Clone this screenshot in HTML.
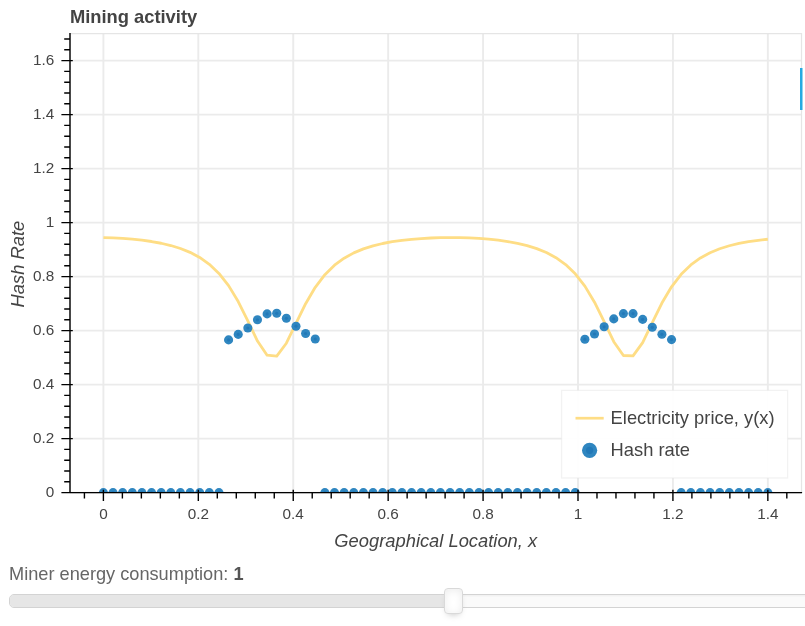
<!DOCTYPE html>
<html><head><meta charset="utf-8"><title>Mining activity</title>
<style>
html,body{margin:0;padding:0;background:#fff;}
body{width:805px;height:626px;overflow:hidden;font-family:"Liberation Sans",Helvetica,Arial,sans-serif;}
svg{display:block;position:absolute;left:0;top:0;}
text{font-family:"Liberation Sans",Helvetica,Arial,sans-serif;fill:#444444;}
.tick{font-size:15.3px;}
.lab{font-size:18.33px;font-style:italic;}
.leg{font-size:18.33px;}
.trk{position:absolute;left:9px;top:594px;width:830px;height:14px;box-sizing:border-box;border:1.25px solid #d3d3d3;border-radius:5px;background:#fafafa;overflow:hidden;box-shadow:inset 0 1.25px 1.25px #f0f0f0;}
.con{position:absolute;left:0;top:0;width:444px;height:100%;background:#e6e6e6;}
.hnd{position:absolute;left:444.2px;top:587.8px;width:18.6px;height:25.8px;box-sizing:border-box;border:1.25px solid #d9d9d9;border-radius:4px;background:#fff;box-shadow:inset 0 0 1.25px #fff, inset 0 1.25px 8.75px #ebebeb, 0 3.75px 7.5px -3.75px #bbb;}
</style></head><body>
<svg width="805" height="626" viewBox="0 0 805 626">
<defs><clipPath id="fr"><rect x="70.0" y="33.6" width="731.5" height="459.0"/></clipPath></defs>
<rect x="0" y="0" width="805" height="626" fill="#ffffff"/>

<text x="69.9" y="23.3" style="font-size:18.33px;font-weight:bold;">Mining activity</text>
<path d="M103.40 33.6V492.6M198.32 33.6V492.6M293.24 33.6V492.6M388.16 33.6V492.6M483.08 33.6V492.6M578.00 33.6V492.6M672.92 33.6V492.6M767.84 33.6V492.6M70.0 492.60H801.5M70.0 438.60H801.5M70.0 384.60H801.5M70.0 330.60H801.5M70.0 276.60H801.5M70.0 222.60H801.5M70.0 168.60H801.5M70.0 114.60H801.5M70.0 60.60H801.5" stroke="#ebebeb" stroke-width="1.9" fill="none"/>
<rect x="70.0" y="33.6" width="731.5" height="459.0" fill="none" stroke="#e5e5e5" stroke-width="1.25"/>
<g clip-path="url(#fr)">
<polyline points="103.40,237.68 113.03,237.96 122.66,238.45 132.29,239.18 141.92,240.18 151.55,241.51 161.18,243.25 170.81,245.52 180.44,248.48 190.07,252.35 199.70,257.46 209.33,264.27 218.95,273.40 228.58,285.60 238.21,301.53 247.84,320.93 257.47,341.03 267.10,355.19 276.73,356.11 286.36,343.23 295.99,323.42 305.62,303.71 315.25,287.32 324.88,274.70 334.51,265.24 344.14,258.18 353.77,252.89 363.40,248.89 373.03,245.84 382.66,243.50 392.29,241.70 401.92,240.32 411.55,239.28 421.18,238.53 430.81,238.01 440.43,237.71 450.06,237.60 459.69,237.69 469.32,237.97 478.95,238.47 488.58,239.21 498.21,240.22 507.84,241.56 517.47,243.32 527.10,245.61 536.73,248.60 546.36,252.51 555.99,257.67 565.62,264.55 575.25,273.78 584.88,286.10 594.51,302.17 604.14,321.66 613.77,341.69 623.40,355.49 633.03,355.86 642.66,342.59 652.29,322.69 661.91,303.06 671.54,286.81 681.17,274.31 690.80,264.95 700.43,257.97 710.06,252.73 719.69,248.77 729.32,245.74 738.95,243.42 748.58,241.64 758.21,240.28 767.84,239.25" fill="none" stroke="#fedd85" stroke-width="2.8" stroke-linejoin="round" stroke-linecap="butt"/>
<circle cx="103.40" cy="492.60" r="4.55" fill="#2f86c0"/><circle cx="103.40" cy="492.60" r="1.6" fill="#2279b8"/>
<circle cx="113.03" cy="492.60" r="4.55" fill="#2f86c0"/><circle cx="113.03" cy="492.60" r="1.6" fill="#2279b8"/>
<circle cx="122.66" cy="492.60" r="4.55" fill="#2f86c0"/><circle cx="122.66" cy="492.60" r="1.6" fill="#2279b8"/>
<circle cx="132.29" cy="492.60" r="4.55" fill="#2f86c0"/><circle cx="132.29" cy="492.60" r="1.6" fill="#2279b8"/>
<circle cx="141.92" cy="492.60" r="4.55" fill="#2f86c0"/><circle cx="141.92" cy="492.60" r="1.6" fill="#2279b8"/>
<circle cx="151.55" cy="492.60" r="4.55" fill="#2f86c0"/><circle cx="151.55" cy="492.60" r="1.6" fill="#2279b8"/>
<circle cx="161.18" cy="492.60" r="4.55" fill="#2f86c0"/><circle cx="161.18" cy="492.60" r="1.6" fill="#2279b8"/>
<circle cx="170.81" cy="492.60" r="4.55" fill="#2f86c0"/><circle cx="170.81" cy="492.60" r="1.6" fill="#2279b8"/>
<circle cx="180.44" cy="492.60" r="4.55" fill="#2f86c0"/><circle cx="180.44" cy="492.60" r="1.6" fill="#2279b8"/>
<circle cx="190.07" cy="492.60" r="4.55" fill="#2f86c0"/><circle cx="190.07" cy="492.60" r="1.6" fill="#2279b8"/>
<circle cx="199.70" cy="492.60" r="4.55" fill="#2f86c0"/><circle cx="199.70" cy="492.60" r="1.6" fill="#2279b8"/>
<circle cx="209.33" cy="492.60" r="4.55" fill="#2f86c0"/><circle cx="209.33" cy="492.60" r="1.6" fill="#2279b8"/>
<circle cx="218.95" cy="492.60" r="4.55" fill="#2f86c0"/><circle cx="218.95" cy="492.60" r="1.6" fill="#2279b8"/>
<circle cx="228.58" cy="339.90" r="4.55" fill="#2f86c0"/><circle cx="228.58" cy="339.90" r="1.6" fill="#2279b8"/>
<circle cx="238.21" cy="334.40" r="4.55" fill="#2f86c0"/><circle cx="238.21" cy="334.40" r="1.6" fill="#2279b8"/>
<circle cx="247.84" cy="328.00" r="4.55" fill="#2f86c0"/><circle cx="247.84" cy="328.00" r="1.6" fill="#2279b8"/>
<circle cx="257.47" cy="319.80" r="4.55" fill="#2f86c0"/><circle cx="257.47" cy="319.80" r="1.6" fill="#2279b8"/>
<circle cx="267.10" cy="313.90" r="4.55" fill="#2f86c0"/><circle cx="267.10" cy="313.90" r="1.6" fill="#2279b8"/>
<circle cx="276.73" cy="313.30" r="4.55" fill="#2f86c0"/><circle cx="276.73" cy="313.30" r="1.6" fill="#2279b8"/>
<circle cx="286.36" cy="318.30" r="4.55" fill="#2f86c0"/><circle cx="286.36" cy="318.30" r="1.6" fill="#2279b8"/>
<circle cx="295.99" cy="326.20" r="4.55" fill="#2f86c0"/><circle cx="295.99" cy="326.20" r="1.6" fill="#2279b8"/>
<circle cx="305.62" cy="333.50" r="4.55" fill="#2f86c0"/><circle cx="305.62" cy="333.50" r="1.6" fill="#2279b8"/>
<circle cx="315.25" cy="339.00" r="4.55" fill="#2f86c0"/><circle cx="315.25" cy="339.00" r="1.6" fill="#2279b8"/>
<circle cx="324.88" cy="492.60" r="4.55" fill="#2f86c0"/><circle cx="324.88" cy="492.60" r="1.6" fill="#2279b8"/>
<circle cx="334.51" cy="492.60" r="4.55" fill="#2f86c0"/><circle cx="334.51" cy="492.60" r="1.6" fill="#2279b8"/>
<circle cx="344.14" cy="492.60" r="4.55" fill="#2f86c0"/><circle cx="344.14" cy="492.60" r="1.6" fill="#2279b8"/>
<circle cx="353.77" cy="492.60" r="4.55" fill="#2f86c0"/><circle cx="353.77" cy="492.60" r="1.6" fill="#2279b8"/>
<circle cx="363.40" cy="492.60" r="4.55" fill="#2f86c0"/><circle cx="363.40" cy="492.60" r="1.6" fill="#2279b8"/>
<circle cx="373.03" cy="492.60" r="4.55" fill="#2f86c0"/><circle cx="373.03" cy="492.60" r="1.6" fill="#2279b8"/>
<circle cx="382.66" cy="492.60" r="4.55" fill="#2f86c0"/><circle cx="382.66" cy="492.60" r="1.6" fill="#2279b8"/>
<circle cx="392.29" cy="492.60" r="4.55" fill="#2f86c0"/><circle cx="392.29" cy="492.60" r="1.6" fill="#2279b8"/>
<circle cx="401.92" cy="492.60" r="4.55" fill="#2f86c0"/><circle cx="401.92" cy="492.60" r="1.6" fill="#2279b8"/>
<circle cx="411.55" cy="492.60" r="4.55" fill="#2f86c0"/><circle cx="411.55" cy="492.60" r="1.6" fill="#2279b8"/>
<circle cx="421.18" cy="492.60" r="4.55" fill="#2f86c0"/><circle cx="421.18" cy="492.60" r="1.6" fill="#2279b8"/>
<circle cx="430.81" cy="492.60" r="4.55" fill="#2f86c0"/><circle cx="430.81" cy="492.60" r="1.6" fill="#2279b8"/>
<circle cx="440.43" cy="492.60" r="4.55" fill="#2f86c0"/><circle cx="440.43" cy="492.60" r="1.6" fill="#2279b8"/>
<circle cx="450.06" cy="492.60" r="4.55" fill="#2f86c0"/><circle cx="450.06" cy="492.60" r="1.6" fill="#2279b8"/>
<circle cx="459.69" cy="492.60" r="4.55" fill="#2f86c0"/><circle cx="459.69" cy="492.60" r="1.6" fill="#2279b8"/>
<circle cx="469.32" cy="492.60" r="4.55" fill="#2f86c0"/><circle cx="469.32" cy="492.60" r="1.6" fill="#2279b8"/>
<circle cx="478.95" cy="492.60" r="4.55" fill="#2f86c0"/><circle cx="478.95" cy="492.60" r="1.6" fill="#2279b8"/>
<circle cx="488.58" cy="492.60" r="4.55" fill="#2f86c0"/><circle cx="488.58" cy="492.60" r="1.6" fill="#2279b8"/>
<circle cx="498.21" cy="492.60" r="4.55" fill="#2f86c0"/><circle cx="498.21" cy="492.60" r="1.6" fill="#2279b8"/>
<circle cx="507.84" cy="492.60" r="4.55" fill="#2f86c0"/><circle cx="507.84" cy="492.60" r="1.6" fill="#2279b8"/>
<circle cx="517.47" cy="492.60" r="4.55" fill="#2f86c0"/><circle cx="517.47" cy="492.60" r="1.6" fill="#2279b8"/>
<circle cx="527.10" cy="492.60" r="4.55" fill="#2f86c0"/><circle cx="527.10" cy="492.60" r="1.6" fill="#2279b8"/>
<circle cx="536.73" cy="492.60" r="4.55" fill="#2f86c0"/><circle cx="536.73" cy="492.60" r="1.6" fill="#2279b8"/>
<circle cx="546.36" cy="492.60" r="4.55" fill="#2f86c0"/><circle cx="546.36" cy="492.60" r="1.6" fill="#2279b8"/>
<circle cx="555.99" cy="492.60" r="4.55" fill="#2f86c0"/><circle cx="555.99" cy="492.60" r="1.6" fill="#2279b8"/>
<circle cx="565.62" cy="492.60" r="4.55" fill="#2f86c0"/><circle cx="565.62" cy="492.60" r="1.6" fill="#2279b8"/>
<circle cx="575.25" cy="492.60" r="4.55" fill="#2f86c0"/><circle cx="575.25" cy="492.60" r="1.6" fill="#2279b8"/>
<circle cx="584.88" cy="339.20" r="4.55" fill="#2f86c0"/><circle cx="584.88" cy="339.20" r="1.6" fill="#2279b8"/>
<circle cx="594.51" cy="334.00" r="4.55" fill="#2f86c0"/><circle cx="594.51" cy="334.00" r="1.6" fill="#2279b8"/>
<circle cx="604.14" cy="326.80" r="4.55" fill="#2f86c0"/><circle cx="604.14" cy="326.80" r="1.6" fill="#2279b8"/>
<circle cx="613.77" cy="318.90" r="4.55" fill="#2f86c0"/><circle cx="613.77" cy="318.90" r="1.6" fill="#2279b8"/>
<circle cx="623.40" cy="313.60" r="4.55" fill="#2f86c0"/><circle cx="623.40" cy="313.60" r="1.6" fill="#2279b8"/>
<circle cx="633.03" cy="313.60" r="4.55" fill="#2f86c0"/><circle cx="633.03" cy="313.60" r="1.6" fill="#2279b8"/>
<circle cx="642.66" cy="319.40" r="4.55" fill="#2f86c0"/><circle cx="642.66" cy="319.40" r="1.6" fill="#2279b8"/>
<circle cx="652.29" cy="327.30" r="4.55" fill="#2f86c0"/><circle cx="652.29" cy="327.30" r="1.6" fill="#2279b8"/>
<circle cx="661.91" cy="334.30" r="4.55" fill="#2f86c0"/><circle cx="661.91" cy="334.30" r="1.6" fill="#2279b8"/>
<circle cx="671.54" cy="339.60" r="4.55" fill="#2f86c0"/><circle cx="671.54" cy="339.60" r="1.6" fill="#2279b8"/>
<circle cx="681.17" cy="492.60" r="4.55" fill="#2f86c0"/><circle cx="681.17" cy="492.60" r="1.6" fill="#2279b8"/>
<circle cx="690.80" cy="492.60" r="4.55" fill="#2f86c0"/><circle cx="690.80" cy="492.60" r="1.6" fill="#2279b8"/>
<circle cx="700.43" cy="492.60" r="4.55" fill="#2f86c0"/><circle cx="700.43" cy="492.60" r="1.6" fill="#2279b8"/>
<circle cx="710.06" cy="492.60" r="4.55" fill="#2f86c0"/><circle cx="710.06" cy="492.60" r="1.6" fill="#2279b8"/>
<circle cx="719.69" cy="492.60" r="4.55" fill="#2f86c0"/><circle cx="719.69" cy="492.60" r="1.6" fill="#2279b8"/>
<circle cx="729.32" cy="492.60" r="4.55" fill="#2f86c0"/><circle cx="729.32" cy="492.60" r="1.6" fill="#2279b8"/>
<circle cx="738.95" cy="492.60" r="4.55" fill="#2f86c0"/><circle cx="738.95" cy="492.60" r="1.6" fill="#2279b8"/>
<circle cx="748.58" cy="492.60" r="4.55" fill="#2f86c0"/><circle cx="748.58" cy="492.60" r="1.6" fill="#2279b8"/>
<circle cx="758.21" cy="492.60" r="4.55" fill="#2f86c0"/><circle cx="758.21" cy="492.60" r="1.6" fill="#2279b8"/>
<circle cx="767.84" cy="492.60" r="4.55" fill="#2f86c0"/><circle cx="767.84" cy="492.60" r="1.6" fill="#2279b8"/>
</g>
<path d="M70.0 33.0V493.20000000000005M69.4 492.6H802.1M61.4 492.60H72.8M64.2 481.80H70.0M64.2 471.00H70.0M64.2 460.20H70.0M64.2 449.40H70.0M61.4 438.60H72.8M64.2 427.80H70.0M64.2 417.00H70.0M64.2 406.20H70.0M64.2 395.40H70.0M61.4 384.60H72.8M64.2 373.80H70.0M64.2 363.00H70.0M64.2 352.20H70.0M64.2 341.40H70.0M61.4 330.60H72.8M64.2 319.80H70.0M64.2 309.00H70.0M64.2 298.20H70.0M64.2 287.40H70.0M61.4 276.60H72.8M64.2 265.80H70.0M64.2 255.00H70.0M64.2 244.20H70.0M64.2 233.40H70.0M61.4 222.60H72.8M64.2 211.80H70.0M64.2 201.00H70.0M64.2 190.20H70.0M64.2 179.40H70.0M61.4 168.60H72.8M64.2 157.80H70.0M64.2 147.00H70.0M64.2 136.20H70.0M64.2 125.40H70.0M61.4 114.60H72.8M64.2 103.80H70.0M64.2 93.00H70.0M64.2 82.20H70.0M64.2 71.40H70.0M61.4 60.60H72.8M64.2 49.80H70.0M64.2 39.00H70.0M84.42 492.6V498.40000000000003M103.40 489.8V500.90000000000003M122.38 492.6V498.40000000000003M141.37 492.6V498.40000000000003M160.35 492.6V498.40000000000003M179.34 492.6V498.40000000000003M198.32 489.8V500.90000000000003M217.30 492.6V498.40000000000003M236.29 492.6V498.40000000000003M255.27 492.6V498.40000000000003M274.26 492.6V498.40000000000003M293.24 489.8V500.90000000000003M312.22 492.6V498.40000000000003M331.21 492.6V498.40000000000003M350.19 492.6V498.40000000000003M369.18 492.6V498.40000000000003M388.16 489.8V500.90000000000003M407.14 492.6V498.40000000000003M426.13 492.6V498.40000000000003M445.11 492.6V498.40000000000003M464.10 492.6V498.40000000000003M483.08 489.8V500.90000000000003M502.06 492.6V498.40000000000003M521.05 492.6V498.40000000000003M540.03 492.6V498.40000000000003M559.02 492.6V498.40000000000003M578.00 489.8V500.90000000000003M596.98 492.6V498.40000000000003M615.97 492.6V498.40000000000003M634.95 492.6V498.40000000000003M653.94 492.6V498.40000000000003M672.92 489.8V500.90000000000003M691.90 492.6V498.40000000000003M710.89 492.6V498.40000000000003M729.87 492.6V498.40000000000003M748.86 492.6V498.40000000000003M767.84 489.8V500.90000000000003M786.82 492.6V498.40000000000003" stroke="#000" stroke-width="1.4" fill="none"/>
<text class="tick" x="54.2" y="496.90" text-anchor="end">0</text>
<text class="tick" x="54.2" y="442.90" text-anchor="end">0.2</text>
<text class="tick" x="54.2" y="388.90" text-anchor="end">0.4</text>
<text class="tick" x="54.2" y="334.90" text-anchor="end">0.6</text>
<text class="tick" x="54.2" y="280.90" text-anchor="end">0.8</text>
<text class="tick" x="54.2" y="226.90" text-anchor="end">1</text>
<text class="tick" x="54.2" y="172.90" text-anchor="end">1.2</text>
<text class="tick" x="54.2" y="118.90" text-anchor="end">1.4</text>
<text class="tick" x="54.2" y="64.90" text-anchor="end">1.6</text>
<text class="tick" x="103.40" y="519" text-anchor="middle">0</text>
<text class="tick" x="198.32" y="519" text-anchor="middle">0.2</text>
<text class="tick" x="293.24" y="519" text-anchor="middle">0.4</text>
<text class="tick" x="388.16" y="519" text-anchor="middle">0.6</text>
<text class="tick" x="483.08" y="519" text-anchor="middle">0.8</text>
<text class="tick" x="578.00" y="519" text-anchor="middle">1</text>
<text class="tick" x="672.92" y="519" text-anchor="middle">1.2</text>
<text class="tick" x="767.84" y="519" text-anchor="middle">1.4</text>
<text class="lab" x="435.75" y="547.4" text-anchor="middle">Geographical Location, x</text>
<text class="lab" transform="translate(23.5 264.10) rotate(-90)" text-anchor="middle">Hash Rate</text>
<rect x="561.6" y="390.4" width="226" height="87.6" fill="#ffffff" fill-opacity="0.95" stroke="#e5e5e5" stroke-opacity="0.5" stroke-width="1.25"/>
<path d="M575.5 418.2H603.7" stroke="#fedd85" stroke-width="2.7"/>
<circle cx="589.6" cy="450.3" r="7.6" fill="#2f86c0"/><circle cx="589.6" cy="450.3" r="3.6" fill="#2279b8"/>
<text class="leg" x="610.6" y="423.6">Electricity price, y(x)</text>
<text class="leg" x="610.6" y="455.6">Hash rate</text>
<rect x="800" y="68" width="2.5" height="42" fill="#26aae1"/>
<text x="9" y="580" style="font-size:18.2px;fill:#666666;">Miner energy consumption: <tspan style="font-weight:bold;fill:#555555;">1</tspan></text>
</svg>
<div class="trk"><div class="con"></div></div><div class="hnd"></div>
</body></html>
